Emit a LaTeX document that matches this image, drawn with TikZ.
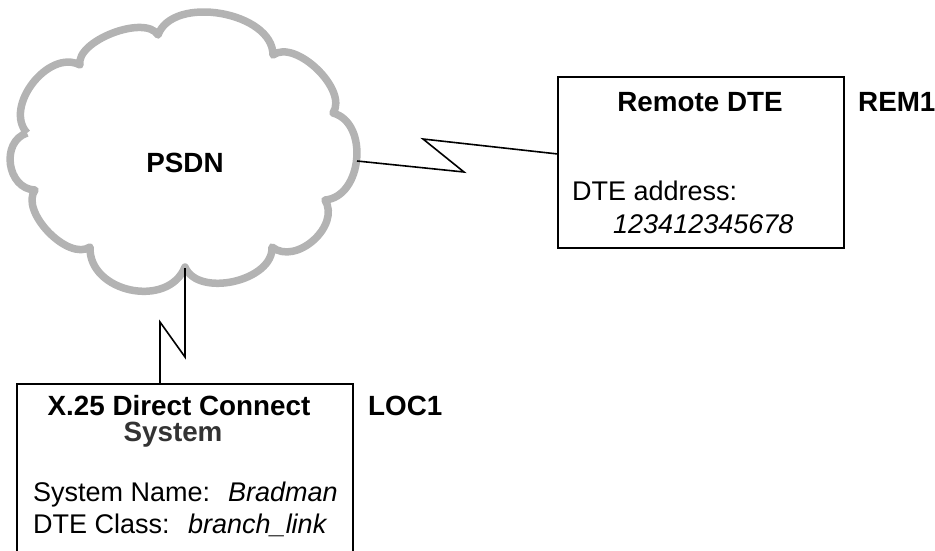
\documentclass[tikz,border=0pt]{standalone}
\usepackage{fontspec}
\setmainfont{Liberation Sans}
\usepackage{tikz}
\definecolor{cloudgray}{HTML}{B3B3B3}
\definecolor{subgray}{HTML}{333333}
\tikzset{every node/.style={inner sep=0pt,anchor=base,font=\fontsize{27}{31}\selectfont}}
\tikzset{dtebox/.style={draw=black,line width=1.6pt,anchor=center}}
\tikzset{boxtitle/.style={font=\fontsize{27.8}{31}\selectfont\bfseries}}
\tikzset{boxvalue/.style={anchor=base west,font=\fontsize{27}{31}\selectfont\itshape}}
\tikzset{link/.style={line width=1.6pt,line join=miter}}
\tikzset{cloudline/.style={draw=cloudgray,line width=7.5pt,line join=round}}

\begin{document}
\begin{tikzpicture}[x=1pt,y=-1pt]
\clip (0,0) rectangle (935,550);

% network cloud
\coordinate (c1) at (27,133);
\coordinate (c2) at (80,65);
\coordinate (c3) at (158,35);
\coordinate (c4) at (273,55);
\coordinate (c5) at (333,113);
\coordinate (c6) at (325,200);
\coordinate (c7) at (272,247);
\coordinate (c8) at (185,267);
\coordinate (c9) at (90,247);
\coordinate (c10) at (35,190);
\draw[cloudline] (c1) to[bend left=80,looseness=1.05] (c2)
  to[bend left=80,looseness=0.75] (c3)
  to[bend left=80,looseness=0.95] (c4)
  to[bend left=80,looseness=0.85] (c5)
  to[bend left=80,looseness=1.1] (c6)
  to[bend left=80,looseness=1.1] (c7)
  to[bend left=80,looseness=0.97] (c8)
  to[bend left=80,looseness=1.2] (c9)
  to[bend left=80,looseness=0.85] (c10)
  to[bend left=80,looseness=1.25] (c1);
\node[boxtitle] (psdn) at (185,172) {PSDN};

% remote DTE
\node[dtebox,minimum width=286pt,minimum height=171pt] (rem) at (701,162.5) {};
\node[boxtitle] (remtitle) at (700,111) {Remote DTE};
\node[boxtitle,anchor=base west] (remid) at (858,111) {REM1};
\node[anchor=base west] (addrlbl) at (572,200) {DTE address:};
\node[boxvalue] (addr) at (613,233) {123412345678};

% local system
\node[dtebox,minimum width=336pt,minimum height=200pt,anchor=north west] (loc) at (16,383) {};
\node[boxtitle] (loctitle) at (179,415) {X.25 Direct Connect};
\node[boxtitle,text=subgray] (loctitle2) at (173,441) {System};
\node[boxtitle,anchor=base west] (locid) at (368,415) {LOC1};
\node[anchor=base west] (namelbl) at (33,501) {System Name:};
\node[boxvalue] (name) at (228,501) {Bradman};
\node[anchor=base west] (classlbl) at (33,533) {DTE Class:};
\node[boxvalue] (class) at (188,533) {branch\_link};

% links
\coordinate (ce) at (357,161);
\coordinate (remport) at (558,154);
\draw[link] (ce) -- (464,172) -- (423,139) -- (remport);
\coordinate (cs) at (185,268);
\coordinate (locport) at (160,383);
\draw[link] (cs) -- (185,357) -- (160,322) -- (locport);
\end{tikzpicture}
\end{document}
